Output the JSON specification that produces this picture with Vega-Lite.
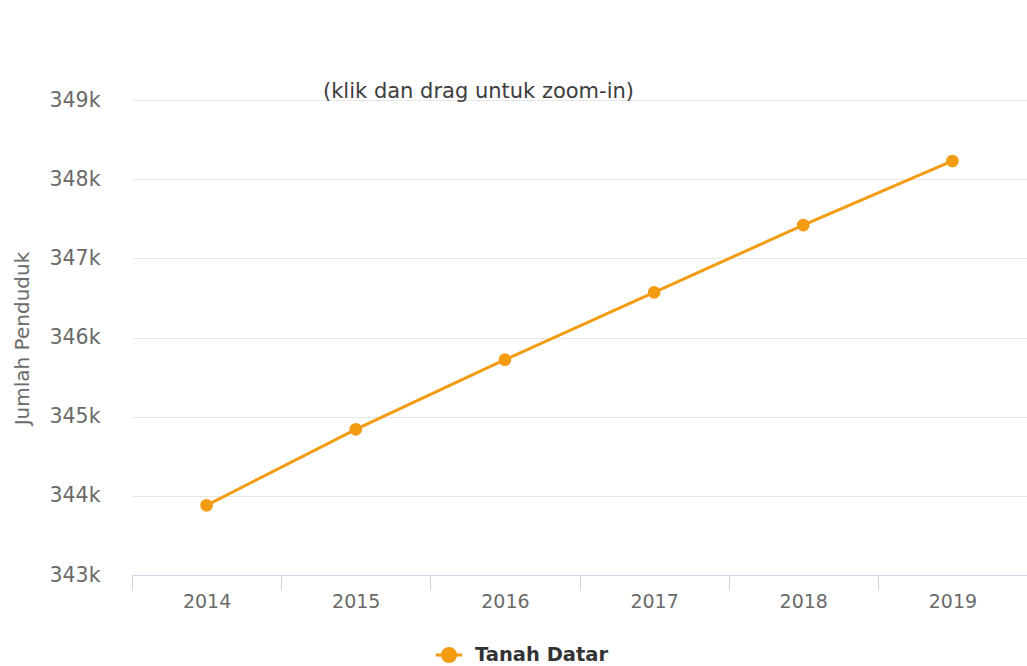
{
  "$schema": "https://vega.github.io/schema/vega-lite/v6.json",
  "autosize": {"type": "none"},
  "width": 895,
  "height": 475,
  "padding": {"left": 132, "top": 100, "right": 0, "bottom": 91},
  "background": "white",
  "config": {
    "font": "DejaVu Sans",
    "view": {"stroke": null}
  },
  "title": {
    "text": "(klik dan drag untuk zoom-in)",
    "anchor": "middle",
    "dx": -101,
    "dy": 20,
    "offset": -9,
    "baseline": "alphabetic",
    "fontSize": 21,
    "fontWeight": "normal",
    "color": "#3d3d3d",
    "font": "DejaVu Sans"
  },
  "data": {
    "values": [
      {"tahun": "2014", "jumlah": 343880, "wilayah": "Tanah Datar"},
      {"tahun": "2015", "jumlah": 344840, "wilayah": "Tanah Datar"},
      {"tahun": "2016", "jumlah": 345720, "wilayah": "Tanah Datar"},
      {"tahun": "2017", "jumlah": 346570, "wilayah": "Tanah Datar"},
      {"tahun": "2018", "jumlah": 347420, "wilayah": "Tanah Datar"},
      {"tahun": "2019", "jumlah": 348230, "wilayah": "Tanah Datar"}
    ]
  },
  "encoding": {
    "x": {
      "field": "tahun",
      "type": "ordinal",
      "scale": {"type": "band", "paddingInner": 0, "paddingOuter": 0},
      "axis": {
        "title": null,
        "labelAngle": 0,
        "labelFontSize": 19,
        "labelColor": "#6a6a6a",
        "labelPadding": 2,
        "tickBand": "extent",
        "tickSize": 15,
        "tickColor": "#ccd6eb",
        "tickWidth": 1,
        "domainColor": "#ccd6eb",
        "domainWidth": 1,
        "grid": false
      }
    },
    "y": {
      "field": "jumlah",
      "type": "quantitative",
      "scale": {"domain": [343000, 349000], "nice": false, "zero": false},
      "axis": {
        "title": "Jumlah Penduduk",
        "titleFontSize": 20,
        "titleFontWeight": "normal",
        "titleColor": "#6a6a6a",
        "titleX": -110,
        "titleY": 238,
        "titleAngle": -90,
        "titleBaseline": "middle",
        "titleAlign": "center",
        "values": [343000, 344000, 345000, 346000, 347000, 348000, 349000],
        "labelExpr": "format(datum.value / 1000, 'd') + 'k'",
        "labelFontSize": 20.5,
        "labelColor": "#6a6a6a",
        "labelPadding": 32,
        "ticks": false,
        "tickSize": 0,
        "domain": false,
        "grid": true,
        "gridColor": "#e6e6e6",
        "gridWidth": 1
      }
    },
    "color": {
      "field": "wilayah",
      "type": "nominal",
      "scale": {"range": ["#f39c12"]},
      "legend": {
        "title": null,
        "orient": "none",
        "legendX": 302,
        "legendY": 540,
        "symbolType": "M-1,0L1,0M0.5,0A0.5,0.5,0,1,1,-0.5,0A0.5,0.5,0,1,1,0.5,0Z",
        "symbolSize": 700,
        "symbolStrokeWidth": 3,
        "symbolFillColor": "#f39c12",
        "symbolStrokeColor": "#f39c12",
        "labelFontSize": 19.5,
        "labelFontWeight": "bold",
        "labelColor": "#333333",
        "labelOffset": 11
      }
    }
  },
  "layer": [
    {"mark": {"type": "line", "strokeWidth": 3}},
    {"mark": {"type": "point", "filled": true, "size": 160, "opacity": 1}}
  ]
}
